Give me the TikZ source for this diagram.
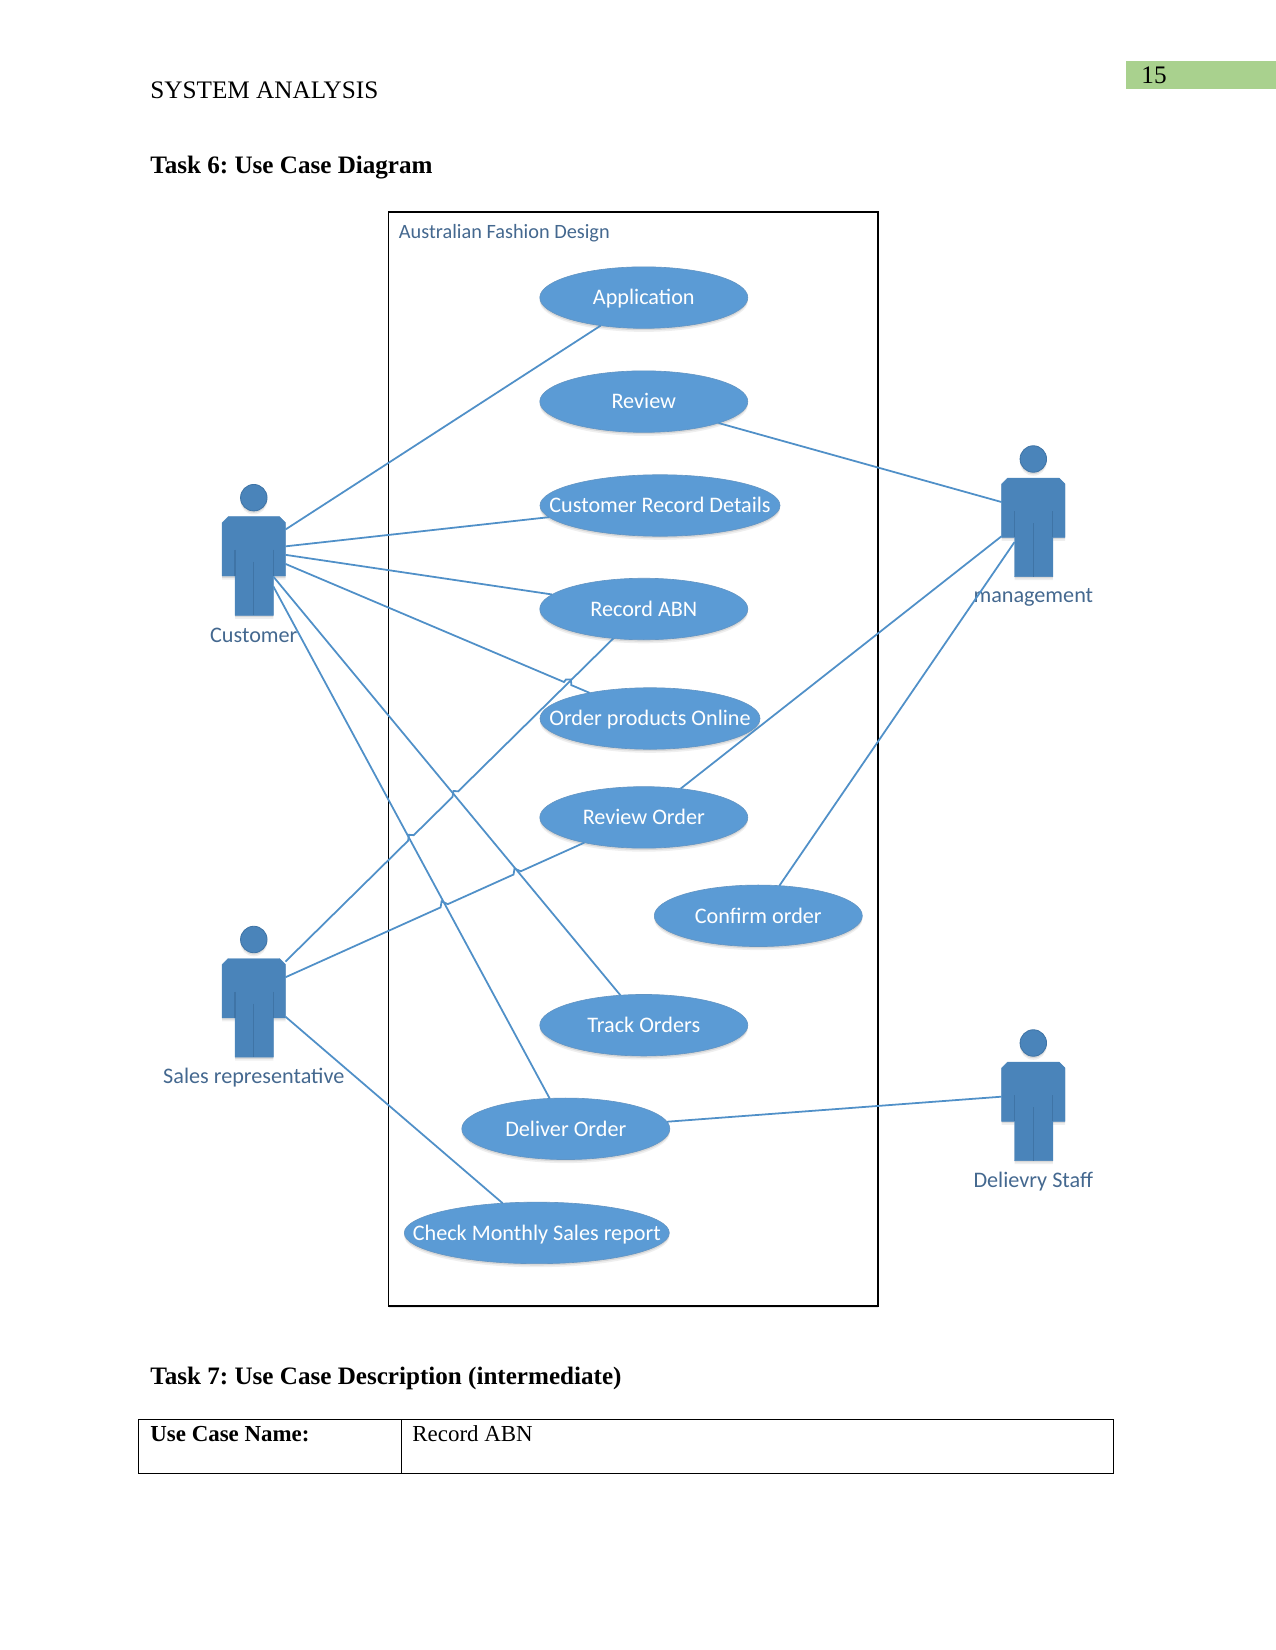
\documentclass[tikz,border=0pt]{standalone}
\usepackage{fontspec}
\setmainfont{Liberation Serif}
\newfontfamily\diag{Carlito}
\frenchspacing
\usetikzlibrary{calc,shapes.geometric,shadows}
\definecolor{conn}{HTML}{5090C8}
\definecolor{ufill}{HTML}{5B9BD5}
\definecolor{afill}{HTML}{4A84BA}
\definecolor{aline}{HTML}{3F74A6}
\definecolor{lab}{HTML}{44688F}
\definecolor{pagebar}{HTML}{A9D18E}
\def\px{0.48pt}
\tikzset{
  x=0.48pt,y=-0.48pt,
  softshadow/.style={
    drop shadow={shadow xshift=0pt,shadow yshift=-1.7pt,opacity=.10,fill=black!60},
    drop shadow={shadow xshift=0pt,shadow yshift=-.9pt,opacity=.16,fill=black!60}},
  usecase/.style={ellipse,minimum width=#1*\px,minimum height=61.5*\px,inner sep=0pt,outer sep=0pt,
    fill=ufill,draw=ufill!80!gray,line width=.3pt,softshadow,text=white,text height=1.83ex,text depth=.3ex,
    font=\diag\fontsize{10.65}{12}\selectfont},
  usecase/.default=208,
  actlabel/.style={text=lab,inner sep=0pt,font=\diag\fontsize{10.65}{12}\selectfont},
  acthead/.style={circle,minimum size=26.5*\px,inner sep=0pt,outer sep=0pt,fill=afill,draw=aline,line width=.4pt,softshadow},
  acttorso/.style={rectangle,minimum width=63.4*\px,minimum height=59.3*\px,inner sep=0pt,outer sep=0pt},
  actbody/.style={fill=afill,draw=afill,line width=.2pt,softshadow},
  actlegs/.style={rectangle,minimum width=38.3*\px,minimum height=39.3*\px,inner sep=0pt,outer sep=0pt},
  actline/.style={draw=aline,line width=.5pt},
  link/.style={draw=conn,line width=.85pt},
  pagetext/.style={inner sep=0pt,font=\fontsize{12.1}{14}\selectfont,text=black},
  boldtext/.style={pagetext,font=\bfseries\fontsize{12.05}{14}\selectfont},
  celltext/.style={pagetext,font=\fontsize{11}{13}\selectfont},
  cellbold/.style={pagetext,font=\bfseries\fontsize{11}{13}\selectfont},
  cellbox/.style={rectangle,draw=black,line width=.45pt,inner sep=0pt,outer sep=0pt},
}
\newcommand\ucl[1]{\makebox[0pt][c]{#1}}
% Visio-style line jumps: from, to, position, half width
\newcommand\hop[4]{-- ($(#1)!#3-#4!(#2)$) -- ($(#1)!#3-#4!(#2)+(1,-6)$) -- ($(#1)!#3+#4!(#2)$)}
\newcommand\hopflat[4]{-- ($(#1)!#3-#4!(#2)$) -- ($(#1)!#3-#4!(#2)+(2,-2.5)$) -- ($(#1)!#3-#4!(#2)+(7,-2.5)$) -- ($(#1)!#3+#4!(#2)$)}
\newcommand\actor[3]{%
  \node[actlegs] (#1legs) at (#2+0.35,#3+98) {};
  \node[acttorso] (#1) at (#2,#3+48.65) {};
  \path[actbody] (#2-31.7,#3+25) -- (#2-25.7,#3+19) -- (#2+25.7,#3+19) -- (#2+31.7,#3+25)
    -- (#2+31.7,#3+78.3) -- (#2+19.5,#3+78.3) -- (#2+19.5,#3+117.6) -- (#2-18.8,#3+117.6)
    -- (#2-18.8,#3+78.3) -- (#2-31.7,#3+78.3) -- cycle;
  \node[acthead] (#1head) at (#2,#3) {};
  \draw[actline] (#2-18.8,#3+52) -- (#2-18.8,#3+78.3);
  \draw[actline] (#2+19.5,#3+52) -- (#2+19.5,#3+78.3);
  \draw[actline] (#2,#3+64) -- (#2,#3+117.6);
}
\begin{document}
\begin{tikzpicture}
\useasboundingbox (0,0) rectangle (1275,1650);
% page furniture
\node[rectangle,fill=pagebar,inner sep=0pt,outer sep=0pt,minimum width=150*\px,minimum height=27.7*\px] (pgbar) at (1200.5,74.85) {};
\node[pagetext,anchor=base west] (pgnum) at (1141,83.3) {15};
\node[pagetext,anchor=base west] (head) at (150,99) {SYSTEM ANALYSIS};
\node[boldtext,anchor=base west] (task6) at (150,173.5) {Task 6: Use Case Diagram};
\node[boldtext,anchor=base west] (task7) at (150,1384) {Task 7: Use Case Description (intermediate)};
% table
\node[cellbox,minimum width=263*\px,minimum height=54*\px] (cellA) at (269.5,1446.5) {};
\node[cellbox,minimum width=712*\px,minimum height=54*\px] (cellB) at (757,1446.5) {};
\node[cellbold,anchor=base west] (ucname) at (150,1441.5) {Use Case Name:};
\node[celltext,anchor=base west] (ucval) at (412,1441.5) {Record ABN};
% system frame
\node[rectangle,draw=black,line width=.8pt,minimum width=489.5*\px,minimum height=1094*\px,inner sep=0pt,outer sep=0pt,
  drop shadow={shadow xshift=0pt,shadow yshift=-.8pt,opacity=.15,fill=black!60},fill=white] (sys) at (633.3,759) {};
\node[inner sep=0pt,anchor=base west,text=lab,font=\diag\fontsize{9.75}{11}\selectfont] (systitle) at (398.5,238.5) {Australian Fashion Design};
% actors
\actor{cust}{253.8}{497.7}
\actor{mgmt}{1033.3}{459}
\actor{sales}{253.8}{939.5}
\actor{deliv}{1033.3}{1043}
\node[actlabel] (custL) at (253.8,635) {Customer};
\node[actlabel] (mgmtL) at (1033.3,597) {management};
\node[actlabel] (salesL) at (253.8,1078) {Sales representative};
\node[actlabel] (delivL) at (1033.3,1182) {Delievry Staff};
% use cases
\node[usecase] (app) at (643.8,297.6) {\ucl{Application}};
\node[usecase] (rev) at (643.8,401.6) {\ucl{Review}};
\node[usecase=240] (crd) at (660,505.5) {\ucl{Customer Record Details}};
\node[usecase] (abn) at (643.8,609) {\ucl{Record ABN}};
\node[usecase=220] (opo) at (650,718.5) {\ucl{Order products Online}};
\node[usecase] (ro) at (643.8,817.4) {\ucl{Review Order}};
\node[usecase] (co) at (758.3,915.8) {\ucl{Confirm order}};
\node[usecase] (to) at (643.8,1025.2) {\ucl{Track Orders}};
\node[usecase] (do) at (565.8,1128.8) {\ucl{Deliver Order}};
\node[usecase=265] (cm) at (536.8,1232.9) {\ucl{Check Monthly Sales report}};
% connectors
\draw[link] (cust.28.5) -- (app.213.4);
\draw[link] (cust.0.6) -- (crd.186.3);
\draw[link] (cust.345.4) -- (abn.171);
\draw[link] (cust.331.1) \hopflat{cust.331.1}{opo.157.2}{.928}{.012} -- (opo.157.2);
\draw[link] (custlegs.45) -- (to.128.4);
\draw[link] (custlegs.26.9) -- (do.118);
\draw[link] (sales.40.9) \hop{sales.40.9}{abn.224.3}{.3824}{.0087} \hop{sales.40.9}{abn.224.3}{.518}{.0087} -- (abn.224.3);
\draw[link] (sales.19.4) \hop{sales.19.4}{ro.203.8}{.531}{.012} \hop{sales.19.4}{ro.203.8}{.775}{.012} -- (ro.203.8);
\draw[link] (sales.318.7) -- (cm.139.4);
\draw[link] (mgmt.170) -- (rev.344.3);
\draw[link] (mgmt.222.3) -- (ro.38.7);
\draw[link] (mgmtlegs.142) -- (co.55.5);
\draw[link] (deliv.189.6) -- (do.4.1);
\end{tikzpicture}
\end{document}
